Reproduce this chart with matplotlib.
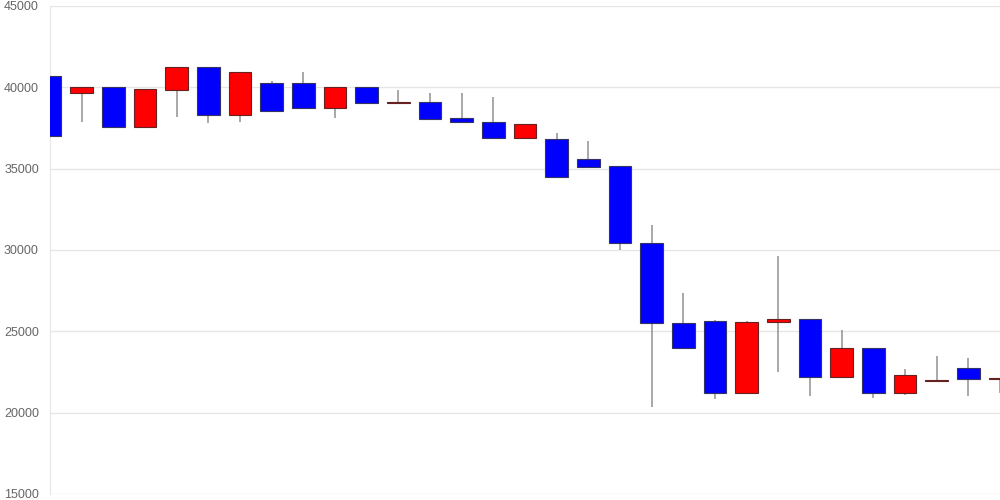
import numpy as np
import matplotlib
matplotlib.use('Agg')
import matplotlib.pyplot as plt

# daily candles
opens = [40700, 39650, 40000, 37550, 39850, 41250, 38280, 40280, 40280, 38720,
         40000, 39020, 39100, 38090, 37880, 36860, 36820, 35600, 35140, 30440,
         25530, 25660, 21180, 25600, 25750, 22200, 24000, 21200, 21960, 22770, 22050]
closes = [37000, 40000, 37550, 39900, 41250, 38280, 40950, 38520, 38720, 40000,
          39030, 39070, 38050, 37870, 36860, 37740, 34490, 35120, 30440, 25530,
          24000, 21180, 25600, 25750, 22200, 24000, 21200, 22340, 22000, 22050, 22100]
highs = [40700, 40000, 40000, 39900, 41250, 41250, 40950, 40400, 40950, 40000,
         40000, 39850, 39650, 39650, 39380, 37740, 37200, 36700, 35140, 31520,
         27370, 25720, 25660, 29660, 25750, 25060, 24000, 22670, 23470, 23340, 22100]
lows = [37000, 37850, 37550, 37550, 38200, 37800, 37880, 38520, 38720, 38100,
        39030, 39020, 38050, 37870, 36860, 36800, 34490, 35120, 30030, 20360,
        24000, 20870, 21180, 22500, 21030, 22200, 20910, 21090, 21960, 21030, 21180]

yticks = [15000, 20000, 25000, 30000, 35000, 40000, 45000]

x = np.arange(len(opens))
o = np.array(opens)
c = np.array(closes)
up = c >= o
colors = np.where(up, '#ff0000', '#0000ff')
edges = np.where(up, '#662222', '#333366')

fig = plt.figure(figsize=(10, 5), dpi=100)
ax = fig.add_axes([0.05, 0.012, 0.95, 0.976])

ax.vlines(x, lows, highs, color='#999999', linewidth=1.2, zorder=2)
bottoms = np.minimum(o, c)
heights = np.maximum(np.abs(c - o), 60)
ax.bar(x, heights, bottom=bottoms, width=0.72, color=colors,
       edgecolor=edges, linewidth=0.8, zorder=3)

ax.set_xlim(0, len(opens) - 1)
ax.set_ylim(15000, 45000)
ax.set_yticks(yticks)
ax.set_yticklabels([str(v) for v in yticks])
ax.set_xticks([])
ax.grid(axis='y', color='#e6e6e6', linewidth=1, zorder=0)
ax.set_axisbelow(True)
for s in ['top', 'right', 'bottom']:
    ax.spines[s].set_visible(False)
ax.spines['left'].set_color('#e6e6e6')
ax.tick_params(axis='y', length=0, pad=8, labelsize=9, labelcolor='#666666')
for lbl in ax.get_yticklabels():
    lbl.set_family(['Liberation Sans', 'DejaVu Sans'])

fig.savefig('out.png', dpi=100)
